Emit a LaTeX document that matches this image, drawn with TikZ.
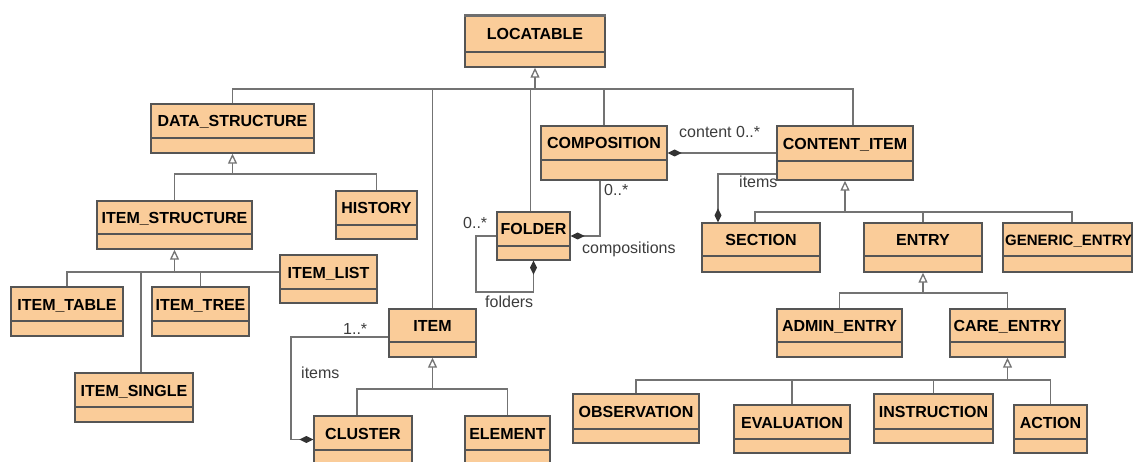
\documentclass[tikz,border=0pt]{standalone}
\usepackage{fontspec}
\setmainfont{Liberation Sans}
\usetikzlibrary{arrows.meta,fit,calc}
\definecolor{clsfill}{RGB}{250,204,153}
\definecolor{clsborder}{RGB}{85,85,85}
\definecolor{linecol}{RGB}{115,115,115}
\definecolor{labcol}{RGB}{60,60,60}
\tikzset{
 cls/.style={draw=clsborder, fill=clsfill, line width=1.4pt, inner sep=0pt},
 divider/.style={draw=clsborder, line width=1.2pt},
 clstext/.style={font=\fontsize{16}{19}\selectfont\bfseries, text=black, inner sep=0pt, anchor=base},
 conn/.style={draw=linecol, line width=1.8pt},
 gen/.style={conn, -{Triangle[open, length=10pt, width=9pt, line width=1.3pt, fill=white]}},
 compo/.style={conn, {Diamond[length=14pt, width=7pt, fill=black!80, color=black!80]}-},
 lab/.style={font=\fontsize{16}{19}\selectfont, text=labcol, inner sep=0pt, anchor=base west},
}
\newcommand\umlclass[7]{%
  \node[cls, fit={(#2,#3) (#4,#5)}] (#1) {};
  \draw[divider] (#2,#6) -- (#4,#6);
  \node[clstext] (#1-t) at ({(#2+#4)/2},{(#3+#6)/2+6}) {#7};
}
\begin{document}
\begin{tikzpicture}[x=1pt,y=-1pt]
\useasboundingbox (0,0) rectangle (1134,462);
\clip (0,0) rectangle (1134,462);
% classes
\umlclass{loc}{465}{16}{605}{67}{52}{LOCATABLE}
\draw[draw=clsborder!85, line width=2.5pt] (loc.north west) -- (loc.north east);
\umlclass{ds}{151}{104}{314}{153}{138}{DATA\_STRUCTURE}
\umlclass{comp}{541}{126}{667}{180}{160}{COMPOSITION}
\umlclass{ci}{777}{126}{913}{180}{161}{CONTENT\_ITEM}
\umlclass{is}{97}{201}{252}{249}{234}{ITEM\_STRUCTURE}
\umlclass{hist}{336}{191}{417}{239}{225}{HISTORY}
\umlclass{folder}{497}{212}{570}{260}{246}{FOLDER}
\umlclass{sect}{702}{223}{820}{272}{256}{SECTION}
\umlclass{entry}{864}{223}{982}{272}{256}{ENTRY}
% GENERIC_ENTRY: text slightly smaller so that it stays inside the picture
\node[cls, fit={(1003,223) (1132,272)}] (genent) {};
\draw[divider] (1003,256) -- (1132,256);
\node[clstext, anchor=base west, font=\fontsize{15}{18}\selectfont\bfseries] (genent-t) at (1005,245.5) {GENERIC\_ENTRY};
\umlclass{ilist}{280}{255}{377}{303}{289}{ITEM\_LIST}
\umlclass{itable}{11}{287}{123}{336}{321}{ITEM\_TABLE}
\umlclass{itree}{152}{287}{249}{336}{321}{ITEM\_TREE}
\umlclass{isingle}{75}{373}{193}{422}{407}{ITEM\_SINGLE}
\umlclass{item}{389}{309}{476}{357}{342}{ITEM}
\umlclass{cluster}{314}{416}{412}{465}{450}{CLUSTER}
\umlclass{element}{465}{416}{550}{465}{450}{ELEMENT}
\umlclass{admin}{777}{309}{902}{357}{342}{ADMIN\_ENTRY}
\umlclass{care}{950}{309}{1065}{357}{342}{CARE\_ENTRY}
\umlclass{obs}{573}{394}{699}{443}{429}{OBSERVATION}
\umlclass{eval}{734}{405}{850}{453}{439}{EVALUATION}
\umlclass{instr}{874}{394}{993}{443}{429}{INSTRUCTION}
\umlclass{action}{1014}{405}{1087}{453}{439}{ACTION}
% LOCATABLE generalization
\coordinate (locbus) at (535,89);
\draw[gen] (locbus) -- (loc.south);
\draw[conn] (ds.north) |- (locbus);
\draw[conn] (item.north) |- (locbus);
\draw[conn] ([xshift=-3pt]folder.north) |- (locbus);
\draw[conn] (comp.north) |- (locbus);
\draw[conn] ([xshift=8pt]ci.north) |- (locbus);
% DATA_STRUCTURE
\coordinate (dsbus) at (232.5,174);
\draw[gen] (dsbus) -- (ds.south);
\draw[conn] (is.north) |- (dsbus);
\draw[conn] (hist.north) |- (dsbus);
% ITEM_STRUCTURE
\coordinate (isbus) at (174.5,272);
\draw[gen] (isbus) -- (is.south);
\draw[conn] (itable.north) |- (isbus);
\draw[conn] ([xshift=7pt]isingle.north) |- (isbus);
\draw[conn] (itree.north) |- (isbus);
\draw[conn] (isbus) -- (isbus -| ilist.west);
% ITEM
\coordinate (itbus) at (432.5,389);
\draw[gen] (itbus) -- (item.south);
\draw[conn] ([xshift=-6pt]cluster.north) |- (itbus);
\draw[conn] (element.north) |- (itbus);
% CONTENT_ITEM
\coordinate (cibus) at (845,212);
\draw[gen] (cibus) -- (ci.south);
\draw[conn] ([xshift=-6pt]sect.north) |- (cibus);
\draw[conn] (entry.north) |- (cibus);
\draw[conn] ([xshift=4.5pt]genent.north) |- (cibus);
% ENTRY
\coordinate (enbus) at (923,293);
\draw[gen] (enbus) -- (entry.south);
\draw[conn] (admin.north) |- (enbus);
\draw[conn] (care.north) |- (enbus);
% CARE_ENTRY
\coordinate (cabus) at (1007.5,380);
\draw[gen] (cabus) -- (care.south);
\draw[conn] (obs.north) |- (cabus);
\draw[conn] (eval.north) |- (cabus);
\draw[conn] (instr.north) |- (cabus);
\draw[conn] (action.north) |- (cabus);
% associations
\draw[compo] (comp.east) -- (ci.west);
\node[lab] (lcontent) at (679,138) {content 0..*};
\draw[compo] (folder.east) -| ([xshift=-4pt]comp.south);
\node[lab] (lcomp0) at (604,196) {0..*};
\node[lab] (lcomps) at (582,254) {compositions};
\coordinate (floop) at (476,292);
\draw[compo] (folder.south) |- (floop) |- (folder.west);
\node[lab] (lfold0) at (463,229) {0..*};
\node[lab] (lfolders) at (485,307) {folders};
\coordinate (icl) at (291,337);
\draw[compo] ([yshift=1pt]cluster.west) -| (icl) -- (icl -| item.west);
\node[lab] (lone) at (343,334) {1..*};
\node[lab] (litems) at (301,378) {items};
\coordinate (sc) at (718,174);
\draw[compo] (sect.north -| sc) -- (sc) -- (sc -| ci.west);
\node[lab] (litems2) at (739,188) {items};
\end{tikzpicture}
\end{document}
